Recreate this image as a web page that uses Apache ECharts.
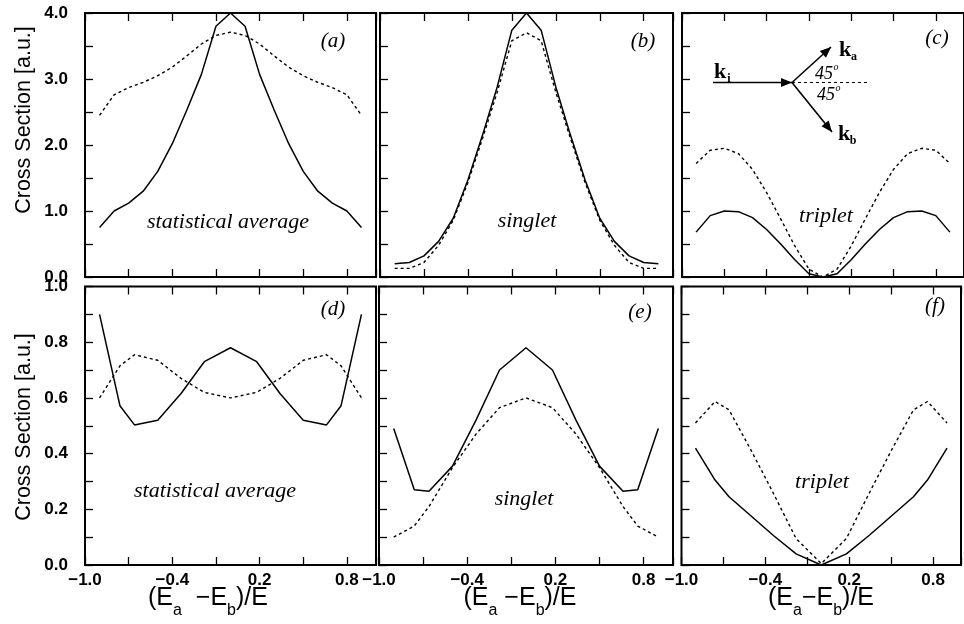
<!DOCTYPE html>
<html><head><meta charset="utf-8">
<script src="https://cdn.jsdelivr.net/npm/echarts@6/dist/echarts.min.js"></script>
<style>html,body{margin:0;padding:0;background:#fff}#c{width:964px;height:624px}</style>
</head><body><div id="c"></div>
<script>
// ---- data ----
const xTop = [-0.9,-0.8,-0.7,-0.6,-0.5,-0.4,-0.3,-0.2,-0.1,0,0.1,0.2,0.3,0.4,0.5,0.6,0.7,0.8,0.9];
const xBot = [-0.9,-0.76,-0.66,-0.5,-0.34,-0.18,0,0.18,0.34,0.5,0.66,0.76,0.9];

const aSolid  = [0.75,1.0,1.12,1.30,1.60,2.02,2.53,3.07,3.80,4.0,3.80,3.07,2.53,2.02,1.60,1.30,1.12,1.0,0.75];
const aDashed = [2.45,2.76,2.87,2.95,3.05,3.18,3.35,3.53,3.66,3.71,3.66,3.53,3.35,3.18,3.05,2.95,2.87,2.76,2.45];
const bSolid  = [0.20,0.22,0.32,0.54,0.89,1.47,2.15,2.88,3.74,4.0,3.74,2.88,2.15,1.47,0.89,0.54,0.32,0.22,0.20];
const bDashed = [0.13,0.13,0.22,0.48,0.86,1.43,2.10,2.80,3.58,3.70,3.58,2.80,2.10,1.43,0.86,0.48,0.22,0.13,0.13];
const cSolid  = [0.68,0.93,1.0,0.99,0.90,0.72,0.50,0.26,0.05,0.0,0.05,0.26,0.50,0.72,0.90,0.99,1.0,0.93,0.68];
const cDashed = [1.72,1.92,1.95,1.87,1.63,1.28,0.88,0.47,0.12,0.0,0.12,0.47,0.88,1.28,1.63,1.87,1.95,1.92,1.72];

const dSolid  = [0.90,0.572,0.503,0.52,0.616,0.73,0.78,0.73,0.616,0.52,0.503,0.572,0.90];
const dDashed = [0.60,0.715,0.755,0.735,0.67,0.62,0.60,0.62,0.67,0.735,0.755,0.715,0.60];
const eSolid  = [0.49,0.27,0.265,0.355,0.52,0.70,0.78,0.70,0.52,0.355,0.265,0.27,0.49];
const eDashed = [0.10,0.14,0.21,0.35,0.47,0.565,0.60,0.565,0.47,0.35,0.21,0.14,0.10];
const fSolid  = [0.42,0.305,0.245,0.175,0.105,0.04,0.0,0.04,0.105,0.175,0.245,0.305,0.42];
const fDashed = [0.51,0.587,0.557,0.41,0.255,0.095,0.005,0.095,0.255,0.41,0.557,0.587,0.51];

const xTickLabelVals = [-1.0,-0.4,0.2,0.8];
const yTopLabelVals = [0,1,2,3,4];
const yBotLabelVals = [0,0.2,0.4,0.6,0.8,1.0];
const panelLabels = ['(a)','(b)','(c)','(d)','(e)','(f)'];
const panelTexts = ['statistical average','singlet','triplet','statistical average','singlet','triplet'];
const yTitle = 'Cross Section [a.u.]';
const xTitles = ['(E{s|a}  \u2212E{s|b})/E','(E{s|a} \u2212E{s|b})/E','(E{s|a}\u2212E{s|b})/E'];

// ---- layout ----
const grids = [
  {left:85,  top:13,    width:291, height:264},
  {left:380, top:13,    width:293, height:264},
  {left:682, top:13,    width:289, height:264},
  {left:85,  top:286.5, width:291, height:278.5},
  {left:379, top:286.5, width:294, height:278.5},
  {left:681.5, top:286.5, width:289, height:278.5}
];
const SANS = '"Liberation Sans", Arial, sans-serif';
const SERIF = '"Liberation Serif", "Times New Roman", serif';

function fmtX(v){
  for (const t of xTickLabelVals) if (Math.abs(v-t)<1e-6) return (t<0?'\u2212':'') + Math.abs(t).toFixed(1);
  return '';
}
function fmtY(vals){
  return v => { for (const t of vals) if (Math.abs(v-t)<1e-6) return t.toFixed(1); return ''; };
}

const xAxes = [], yAxes = [], series = [];
grids.forEach((g,i)=>{
  const bottomRow = i>=3, firstCol = (i%3)===0;
  const common = {type:'value', min:-1, max:1, interval:0.3, gridIndex:i,
    splitLine:{show:false}, axisLine:{show:false, onZero:false},
    axisTick:{show:true, inside:true, length:8, lineStyle:{color:'#000', width:1.3}}};
  xAxes.push(Object.assign({}, common, {position:'bottom',
    axisLabel:{show:bottomRow, formatter:fmtX, margin:7, color:'#000', fontSize:17, fontWeight:'bold', fontFamily:SANS}}));
  xAxes.push(Object.assign({}, common, {position:'top', axisLabel:{show:false}}));
  yAxes.push({type:'value', gridIndex:i, position:'left', min:0, max: bottomRow?1:4, interval: bottomRow?0.1:0.5,
    splitLine:{show:false}, axisLine:{show:false, onZero:false},
    axisTick:{show:true, inside:true, length:8, lineStyle:{color:'#000', width:1.3}},
    axisLabel:{show:firstCol, formatter: fmtY(bottomRow?yBotLabelVals:yTopLabelVals), margin:17,
      color:'#000', fontSize:17, fontWeight:'bold', fontFamily:SANS}});
});

const panelData = [
  [xTop,aSolid,aDashed],[xTop,bSolid,bDashed],[xTop,cSolid,cDashed],
  [xBot,dSolid,dDashed],[xBot,eSolid,eDashed],[xBot,fSolid,fDashed]
];
panelData.forEach((p,i)=>{
  const [xs,s,d] = p;
  series.push({type:'line', xAxisIndex:2*i, yAxisIndex:i, data: xs.map((x,k)=>[x,s[k]]),
    showSymbol:false, lineStyle:{color:'#000', width:1.5}, silent:true, clip:false});
  series.push({type:'line', xAxisIndex:2*i, yAxisIndex:i, data: xs.map((x,k)=>[x,d[k]]),
    showSymbol:false, lineStyle:{color:'#000', width:1.4, type:[3,3]}, silent:true, clip:false});
});

// ---- annotations ----
const gfx = [];
function txt(x,y,text,font,extra){
  gfx.push(Object.assign({type:'text', x, y, silent:true,
    style:{text, font, fill:'#000', align:'center', verticalAlign:'middle', textAlign:'center', textVerticalAlign:'middle'}}, extra||{}));
}
// y titles
txt(24,120,yTitle,'21.5px '+SANS,{rotation:Math.PI/2});
txt(24,427,yTitle,'21.5px '+SANS,{rotation:Math.PI/2});
// x titles (rich text with subscripts)
function xTitle(cx, text){
  gfx.push({type:'text', x:cx, y:598, silent:true, style:{text, font:'25px '+SANS, fill:'#000',
    align:'center', verticalAlign:'middle', textAlign:'center', textVerticalAlign:'middle',
    rich:{s:{fontSize:16, fontFamily:SANS, fill:'#000', padding:[26,0,0,0]}}}});
}
xTitle(208,xTitles[0]);
xTitle(520,xTitles[1]);
xTitle(821,xTitles[2]);
// panel labels
const labPos = [[333,41],[643,41],[937,38],[333,309],[640,312],[935,306]];
panelLabels.forEach((t,i)=>txt(labPos[i][0],labPos[i][1],t,'italic 21px '+SERIF));
const textPos = [[228,222],[527,221],[826,216],[215,491],[524,499],[822,482]];
panelTexts.forEach((t,i)=>txt(textPos[i][0],textPos[i][1],t,'italic 22px '+SERIF));

// scattering diagram in (c)
function arrow(x1,y1,x2,y2,head){
  gfx.push({type:'line', silent:true, shape:{x1,y1,x2,y2}, style:{stroke:'#000', lineWidth:1.6}});
  const dx=x2-x1, dy=y2-y1, L=Math.hypot(dx,dy), ux=dx/L, uy=dy/L;
  const bx=x2-ux*head, by=y2-uy*head, w=head*0.42;
  gfx.push({type:'polygon', silent:true, shape:{points:[[x2,y2],[bx-uy*w,by+ux*w],[bx+uy*w,by-ux*w]]}, style:{fill:'#000'}});
}
gfx.push({type:'line', silent:true, shape:{x1:792,y1:82.5,x2:870,y2:82.5}, style:{stroke:'#000', lineWidth:1, lineDash:[3,3]}});
arrow(713,82.5,792,82.5,11);
arrow(792,82.5,831,47,11);
arrow(792,82.5,832,132,11);
function kLabel(x,y,sub){
  txt(x,y,'k','bold 22px '+SERIF);
  txt(x+9,y+7,sub,'bold 12px '+SERIF);
}
kLabel(720,72,'i');
kLabel(845,50,'a');
kLabel(844,134,'b');
function deg(x,y){
  txt(x,y,'45','italic 18px '+SERIF);
  txt(x+12,y-7,'o','italic 10px '+SERIF);
}
deg(824,74);
deg(826,95);

const chart = echarts.init(document.getElementById('c'), null, {renderer:'canvas'});
chart.setOption({
  animation:false,
  backgroundColor:'#fff',
  grid: grids.map(g=>Object.assign({show:true, borderColor:'#000', borderWidth:2, backgroundColor:'transparent'}, g)),
  xAxis: xAxes, yAxis: yAxes, series, graphic: gfx
});
</script></body></html>
